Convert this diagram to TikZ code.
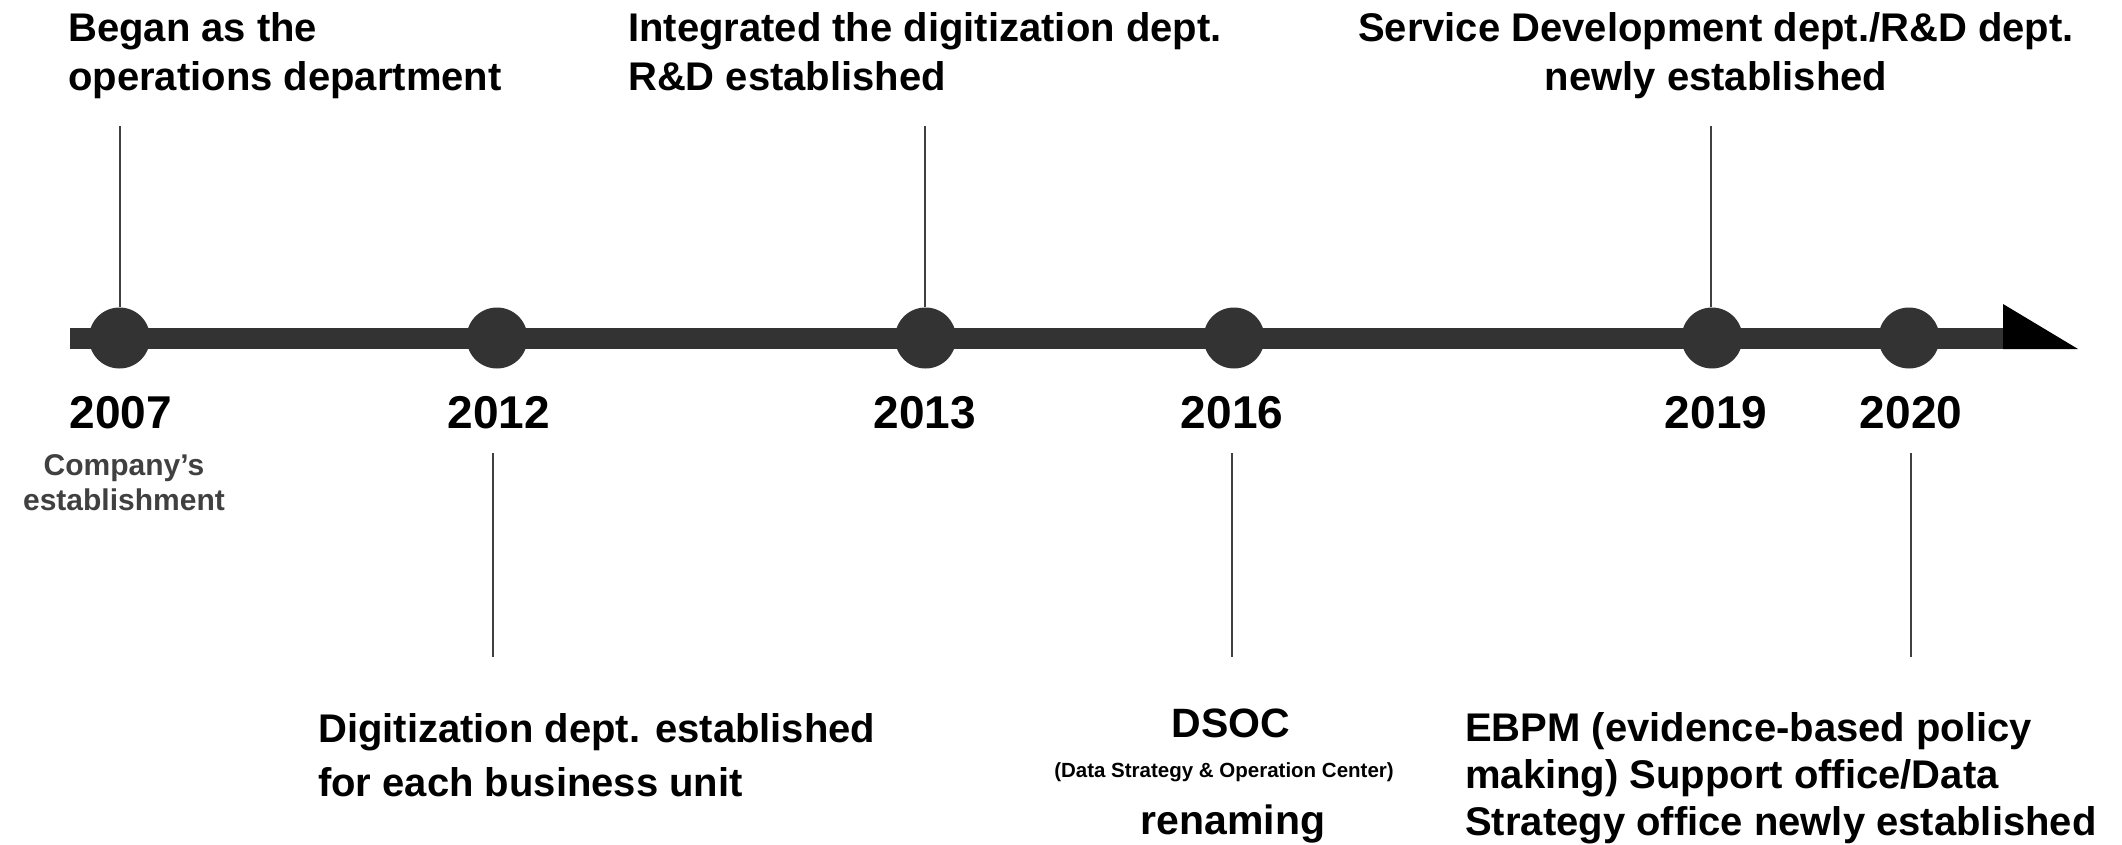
\documentclass[tikz,border=0pt]{standalone}
\usepackage{fontspec}
\setmainfont{Liberation Sans}
\definecolor{barc}{HTML}{333333}
\definecolor{linec}{HTML}{404040}
\begin{document}
\begin{tikzpicture}[x=1pt,y=-1pt,
  dot/.style={circle,fill=barc,minimum size=61pt,inner sep=0pt},
  yr/.style={font=\fontsize{46}{50}\selectfont\bfseries,inner sep=0pt,anchor=base},
  lbl/.style={font=\fontsize{40}{48}\selectfont\bfseries,inner sep=0pt,anchor=base west},
  lblc/.style={font=\fontsize{40}{48}\selectfont\bfseries,inner sep=0pt,anchor=base},
  sub/.style={font=\fontsize{30}{34}\selectfont\bfseries,text=linec,inner sep=0pt,anchor=base},
  tiny/.style={font=\fontsize{20.5}{24}\selectfont\bfseries,inner sep=0pt,anchor=base},
  tick/.style={draw=linec,line width=2pt},
]
\useasboundingbox (0,0) rectangle (2122,845);
% main bar
\coordinate (start) at (70,338.5);
\coordinate (end) at (2003,338.5);
\draw[barc,line width=21pt] (start) -- (end);
\fill[black] (2003,304) -- (2078,349) -- (2003,349) -- cycle;
% dots
\node[dot] (d2007) at (119.5,338) {};
\node[dot] (d2012) at (497,338) {};
\node[dot] (d2013) at (925.5,338) {};
\node[dot] (d2016) at (1234,338) {};
\node[dot] (d2019) at (1712,338) {};
\node[dot] (d2020) at (1909,338) {};
% years
\node[yr] (y2007) at (121,428) {2007};
\node[yr] (y2012) at (499,428) {2012};
\node[yr] (y2013) at (925,428) {2013};
\node[yr] (y2016) at (1232,428) {2016};
\node[yr] (y2019) at (1716,428) {2019};
\node[yr] (y2020) at (1911,428) {2020};
% upper ticks
\coordinate (t2007) at (119.5,126);
\coordinate (t2013) at (925,126);
\coordinate (t2019) at (1711,126);
\draw[tick] (t2007) -- (t2007 |- d2007.north);
\draw[tick] (t2013) -- (t2013 |- d2013.north);
\draw[tick] (t2019) -- (t2019 |- d2019.north);
% lower ticks
\coordinate (a2012) at (493,453);
\coordinate (b2012) at (493,657);
\coordinate (a2016) at (1232,453);
\coordinate (b2016) at (1232,657);
\coordinate (a2020) at (1911,453);
\coordinate (b2020) at (1911,657);
\draw[tick] (a2012) -- (b2012);
\draw[tick] (a2016) -- (b2016);
\draw[tick] (a2020) -- (b2020);
% upper labels
\node[lbl] (l1a) at (68,42) {Began as the};
\node[lbl] (l1b) at (68,91) {operations department};
\node[lbl] (l3a) at (628,42) {Integrated the digitization dept.};
\node[lbl] (l3b) at (628,91) {R\&D established};
\node[lblc] (l5a) at (1716,42) {Service Development dept./R\&D dept.};
\node[lblc] (l5b) at (1716,91) {newly established};
% 2007 sub label
\node[sub] (s1) at (124,475) {Company’s};
\node[sub] (s2) at (124,510) {establishment};
% lower labels
\node[lbl] (l2a) at (318,742) {Digitization dept. established};
\node[lbl] (l2b) at (318,796) {for each business unit};
\node[font=\fontsize{41}{48}\selectfont\bfseries,inner sep=0pt,anchor=base] (l4a) at (1231,737) {DSOC};
\node[tiny] (l4b) at (1224,777) {(Data Strategy \& Operation Center)};
\node[font=\fontsize{41}{48}\selectfont\bfseries,inner sep=0pt,anchor=base] (l4c) at (1233,834) {renaming};
\node[lbl] (l6a) at (1465,741) {EBPM (evidence-based policy};
\node[lbl] (l6b) at (1465,788) {making) Support office/Data};
\node[lbl] (l6c) at (1465,835) {Strategy office newly established};
\end{tikzpicture}
\end{document}
